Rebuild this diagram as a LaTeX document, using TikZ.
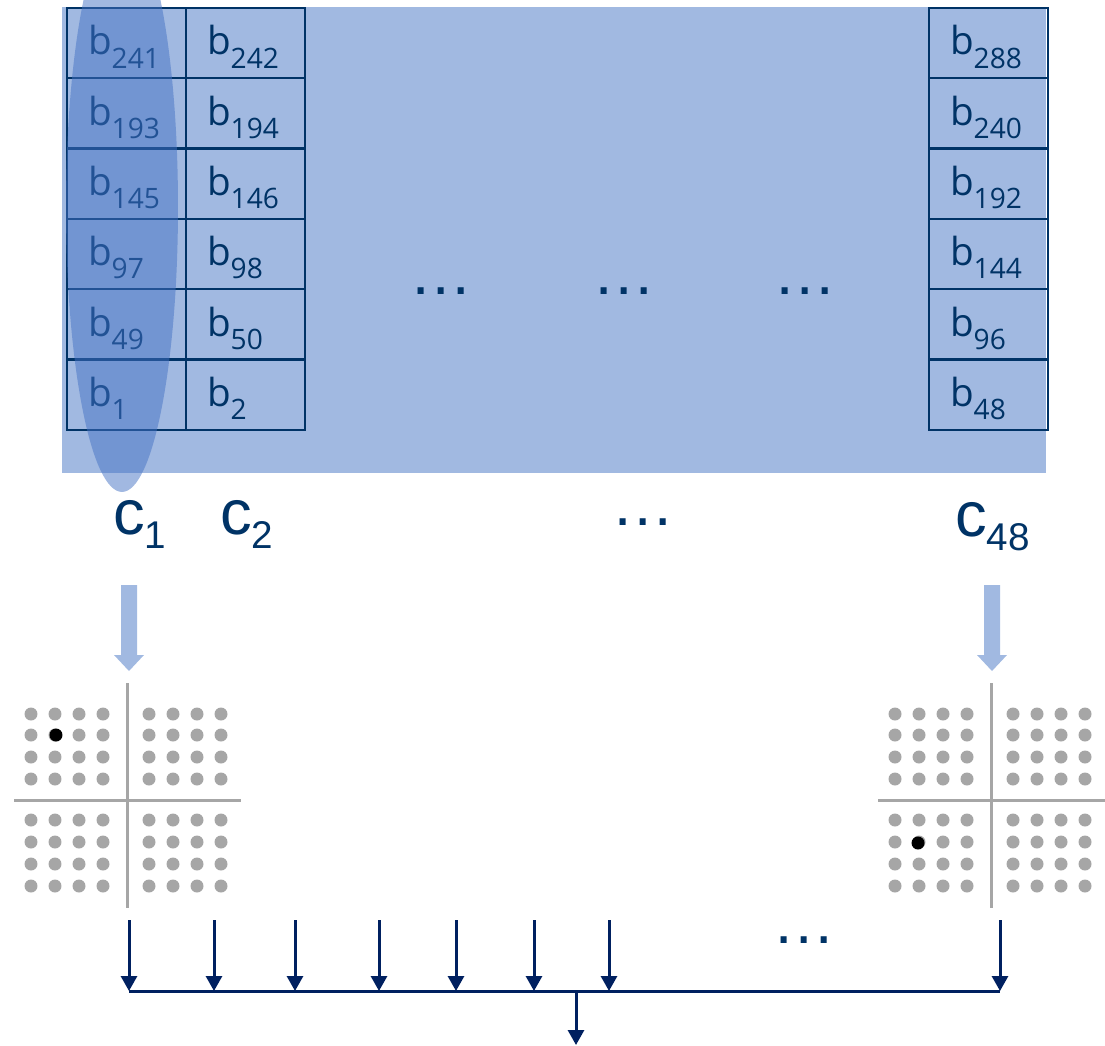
\documentclass[tikz,border=0pt]{standalone}
\usepackage{fontspec}
\setmainfont{Liberation Sans}
\newfontfamily\cellfont{Open Sans}
\usetikzlibrary{arrows.meta}
\definecolor{navy}{RGB}{0,51,102}
\definecolor{busnavy}{RGB}{0,32,96}
\definecolor{bandblue}{RGB}{68,114,196}
\definecolor{dotgray}{RGB}{166,166,166}
\newcommand{\bcell}[1]{{\cellfont\fontsize{22}{24}\selectfont b\raisebox{-7.4pt}{\fontsize{16}{18}\selectfont #1}}}
\newcommand{\clabel}[1]{{\fontsize{36}{40}\selectfont c\raisebox{-8.5pt}{\fontsize{22}{24}\selectfont #1}}}
\tikzset{
  cell/.style={draw=navy, line width=0.04cm, text=navy, minimum width=2.38cm, minimum height=1.41cm,
    inner xsep=0.42cm, inner ysep=0pt, text width=1.54cm, align=left, text height=0.72cm, text depth=0.24cm},
  chan/.style={text=navy, inner sep=0pt, anchor=base west},
  gap/.style={text=navy, inner sep=0pt, anchor=base, font=\fontsize{36}{40}\selectfont},
  axis/.style={dotgray, line width=0.06cm},
  bus/.style={busnavy, line width=0.06cm},
  busarrow/.style={bus, -{Triangle[width=0.32cm,length=0.3cm]}},
}
\begin{document}
\begin{tikzpicture}[x=0.02cm, y=-0.02cm]
\useasboundingbox (0,0) rectangle (1105,1045);
\clip (0,0) rectangle (1105,1045);
% bit band
\fill[bandblue!50] (62,7) rectangle (1046,473);
\foreach \r in {0,...,5}{
  \pgfmathtruncatemacro{\na}{48*(5-\r)+1}
  \pgfmathtruncatemacro{\nb}{48*(5-\r)+2}
  \pgfmathtruncatemacro{\nc}{48*(6-\r)}
  \node[cell] (b\na) at (126.5, {43+70.33*\r}) {\bcell{\na}};
  \node[cell] (b\nb) at (245.5, {43+70.33*\r}) {\bcell{\nb}};
  \node[cell] (b\nc) at (988.5, {43+70.33*\r}) {\bcell{\nc}};
}
\node[gap] (gapa) at (441,294) {…};
\node[gap] (gapb) at (624,294) {…};
\node[gap] (gapc) at (805,294) {…};
% first column
\fill[bandblue, opacity=0.5] (122,207) ellipse [x radius=1.12cm, y radius=5.7cm];
% channel labels
\node[chan] (c1) at (113,534) {\clabel{1}};
\node[chan] (c2) at (220,534) {\clabel{2}};
\node[gap] (gapd) at (643,525) {…};
\node[chan] (c48) at (955,536) {\clabel{48}};
\foreach \x in {129,992}
  \fill[bandblue!50] (\x-8,585) -- (\x+8,585) -- (\x+8,655) -- (\x+15,655) -- (\x,671)
    -- (\x-15,655) -- (\x-8,655) -- cycle;
% constellations
\foreach \cx/\bx/\by in {127/-71/-65, 991/-73/43}{
  \draw[axis] (\cx,683) -- (\cx,908);
  \draw[axis] (\cx-113,800) -- (\cx+114,800);
  \foreach \i in {-96,-72,-48,-24,22,46,70,94}
    \foreach \j in {-86,-65,-43,-21,20,42,64,86}
      \fill[dotgray] (\cx+\i,800+\j) circle (0.13cm);
  \fill[black] (\cx+\bx,800+\by) circle (0.13cm);
}
% combining
\foreach \x [count=\k] in {129,214,295,379,456,534,609,1000}{
  \coordinate (t\k) at (\x,920);
  \coordinate (j\k) at (\x,991);
  \draw[busarrow] (t\k) -- (j\k);
}
\node[gap] (gape) at (804,943) {…};
\coordinate (jout) at (576,991);
\coordinate (out) at (576,1045);
\draw[bus] (j1) -- (j8);
\draw[busarrow] (jout) -- (out);
\end{tikzpicture}
\end{document}
